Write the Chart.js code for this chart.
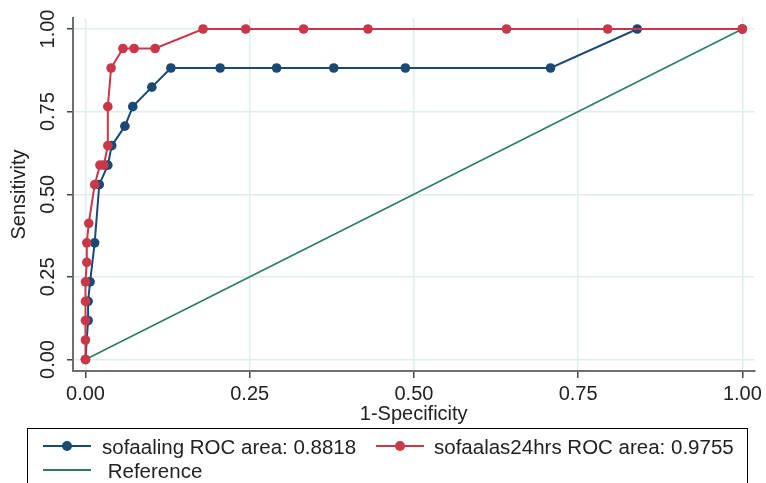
<!DOCTYPE html>
<html>
<head>
<meta charset="utf-8">
<script src="https://cdn.jsdelivr.net/npm/chart.js@4.4.1/dist/chart.umd.min.js"></script>
<style>
  html, body { margin: 0; padding: 0; background: #fff; overflow: hidden; }
  #wrap { position: relative; width: 766px; height: 483px; }
  #legend {
    position: absolute; left: 27px; top: 428px; width: 721px; height: 80px;
    border: 1px solid #000; box-sizing: border-box;
    font-family: "Liberation Sans", Arial, sans-serif; font-size: 20.5px; color: #222;
  }
  .item { position: absolute; white-space: pre; line-height: 24px; }
  .sample { position: absolute; height: 2px; width: 48px; }
  .dot { position: absolute; width: 10px; height: 10px; border-radius: 50%; left: 19px; top: -4px; }
</style>
</head>
<body>
<div id="wrap">
  <canvas id="roc" width="766" height="483"></canvas>
  <div id="legend"></div>
</div>
<script>
// sofaaling
const blueX = [0, 0.004, 0.004, 0.007, 0.014, 0.021, 0.034, 0.040, 0.060, 0.072, 0.101, 0.130, 0.205, 0.291, 0.378, 0.487, 0.708, 0.840, 1];
const blueY = [0, 0.118, 0.176, 0.235, 0.353, 0.529, 0.588, 0.647, 0.706, 0.765, 0.824, 0.882, 0.882, 0.882, 0.882, 0.882, 0.882, 1, 1];
// sofaalas24hrs
const redX = [0, 0, 0, 0, 0, 0.002, 0.002, 0.005, 0.014, 0.022, 0.028, 0.034, 0.034, 0.039, 0.057, 0.074, 0.106, 0.179, 0.244, 0.332, 0.430, 0.641, 0.795, 1];
const redY = [0, 0.059, 0.118, 0.176, 0.235, 0.294, 0.353, 0.412, 0.529, 0.588, 0.588, 0.647, 0.765, 0.882, 0.941, 0.941, 0.941, 1, 1, 1, 1, 1, 1, 1];
// reference diagonal
const refX = [0, 1];
const refY = [0, 1];

const seriesLabels = ['sofaaling ROC area: 0.8818', 'sofaalas24hrs ROC area: 0.9755', ' Reference'];
const xTicks = [0, 0.25, 0.5, 0.75, 1];
const xTickLabels = ['0.00', '0.25', '0.50', '0.75', '1.00'];
const yTicks = [0, 0.25, 0.5, 0.75, 1];
const yTickLabels = ['0.00', '0.25', '0.50', '0.75', '1.00'];

const BLUE = '#1a4a74';
const RED = '#c93848';
const TEAL = '#2a7a68';
const FONT = '"Liberation Sans", Arial, sans-serif';

const pts = (xs, ys) => xs.map((x, i) => ({ x: x, y: ys[i] }));

// y tick labels are rotated like Stata draws them
const yLabelPlugin = {
    id: 'yLabels',
    afterDraw(chart) {
        const ctx = chart.ctx;
        const ys = chart.scales.y;
        ctx.save();
        ctx.font = '20px ' + FONT;
        ctx.fillStyle = '#222';
        ctx.textAlign = 'center';
        ctx.textBaseline = 'middle';
        yTicks.forEach((v, i) => {
            const py = ys.getPixelForValue(v);
            ctx.save();
            ctx.translate(48, py);
            ctx.rotate(-Math.PI / 2);
            ctx.fillText(yTickLabels[i], 0, 0);
            ctx.restore();
        });
        ctx.restore();
    }
};

const chart = new Chart(document.getElementById('roc'), {
    type: 'scatter',
    data: {
        datasets: [
            {
                label: seriesLabels[0],
                data: pts(blueX, blueY),
                showLine: true,
                borderColor: BLUE,
                backgroundColor: BLUE,
                borderWidth: 2,
                pointRadius: 4.8,
                pointBorderWidth: 0,
                order: 2
            },
            {
                label: seriesLabels[1],
                data: pts(redX, redY),
                showLine: true,
                borderColor: RED,
                backgroundColor: RED,
                borderWidth: 2,
                pointRadius: 4.8,
                pointBorderWidth: 0,
                order: 1
            },
            {
                label: seriesLabels[2],
                data: pts(refX, refY),
                showLine: true,
                borderColor: TEAL,
                backgroundColor: TEAL,
                borderWidth: 1.5,
                pointRadius: 0,
                order: 3
            }
        ]
    },
    options: {
        responsive: false,
        animation: false,
        devicePixelRatio: 1,
        layout: { padding: { top: 18, right: 11, left: 0, bottom: 0 } },
        plugins: { legend: { display: false }, tooltip: { enabled: false } },
        scales: {
            x: {
                type: 'linear',
                min: -0.019,
                max: 1.0183,
                afterBuildTicks: s => { s.ticks = xTicks.map(v => ({ value: v })); },
                afterFit: s => { s.height = 112; },
                ticks: {
                    callback: v => xTickLabels[xTicks.indexOf(v)],
                    font: { family: FONT, size: 20 },
                    color: '#222',
                    padding: 4,
                    maxRotation: 0
                },
                grid: { color: '#e0eded', lineWidth: 1.5, tickColor: '#444', tickLength: 7 },
                border: { color: '#6e6e6e', width: 2 },
                title: {
                    display: true,
                    text: '1-Specificity',
                    font: { family: FONT, size: 20 },
                    color: '#222',
                    padding: { top: 0, bottom: 57 }
                }
            },
            y: {
                type: 'linear',
                min: -0.0348,
                max: 1.0333,
                afterBuildTicks: s => { s.ticks = yTicks.map(v => ({ value: v })); },
                afterFit: s => { s.width = 73; },
                ticks: { display: false },
                grid: { color: '#e0eded', lineWidth: 1.5, tickColor: '#444', tickLength: 6 },
                border: { color: '#6e6e6e', width: 2 },
                title: {
                    display: true,
                    text: 'Sensitivity',
                    font: { family: FONT, size: 20 },
                    color: '#222',
                    padding: { top: 7, bottom: 0 }
                }
            }
        }
    },
    plugins: [yLabelPlugin]
});

// legend laid out like the Stata key box
const legend = document.getElementById('legend');
const legendPos = [
    { left: 15, top: 16, textLeft: 74 },
    { left: 348, top: 16, textLeft: 406 },
    { left: 15, top: 40, textLeft: 74 }
];
chart.data.datasets.forEach((ds, i) => {
    const p = legendPos[i];
    const s = document.createElement('div');
    s.className = 'sample';
    s.style.left = p.left + 'px';
    s.style.top = p.top + 'px';
    s.style.background = ds.borderColor;
    if (ds.pointRadius > 0) {
        const d = document.createElement('div');
        d.className = 'dot';
        d.style.background = ds.backgroundColor;
        s.appendChild(d);
    }
    legend.appendChild(s);
    const t = document.createElement('div');
    t.className = 'item';
    t.style.left = p.textLeft + 'px';
    t.style.top = (p.top - 10) + 'px';
    t.textContent = ds.label;
    legend.appendChild(t);
});
</script>
</body>
</html>
